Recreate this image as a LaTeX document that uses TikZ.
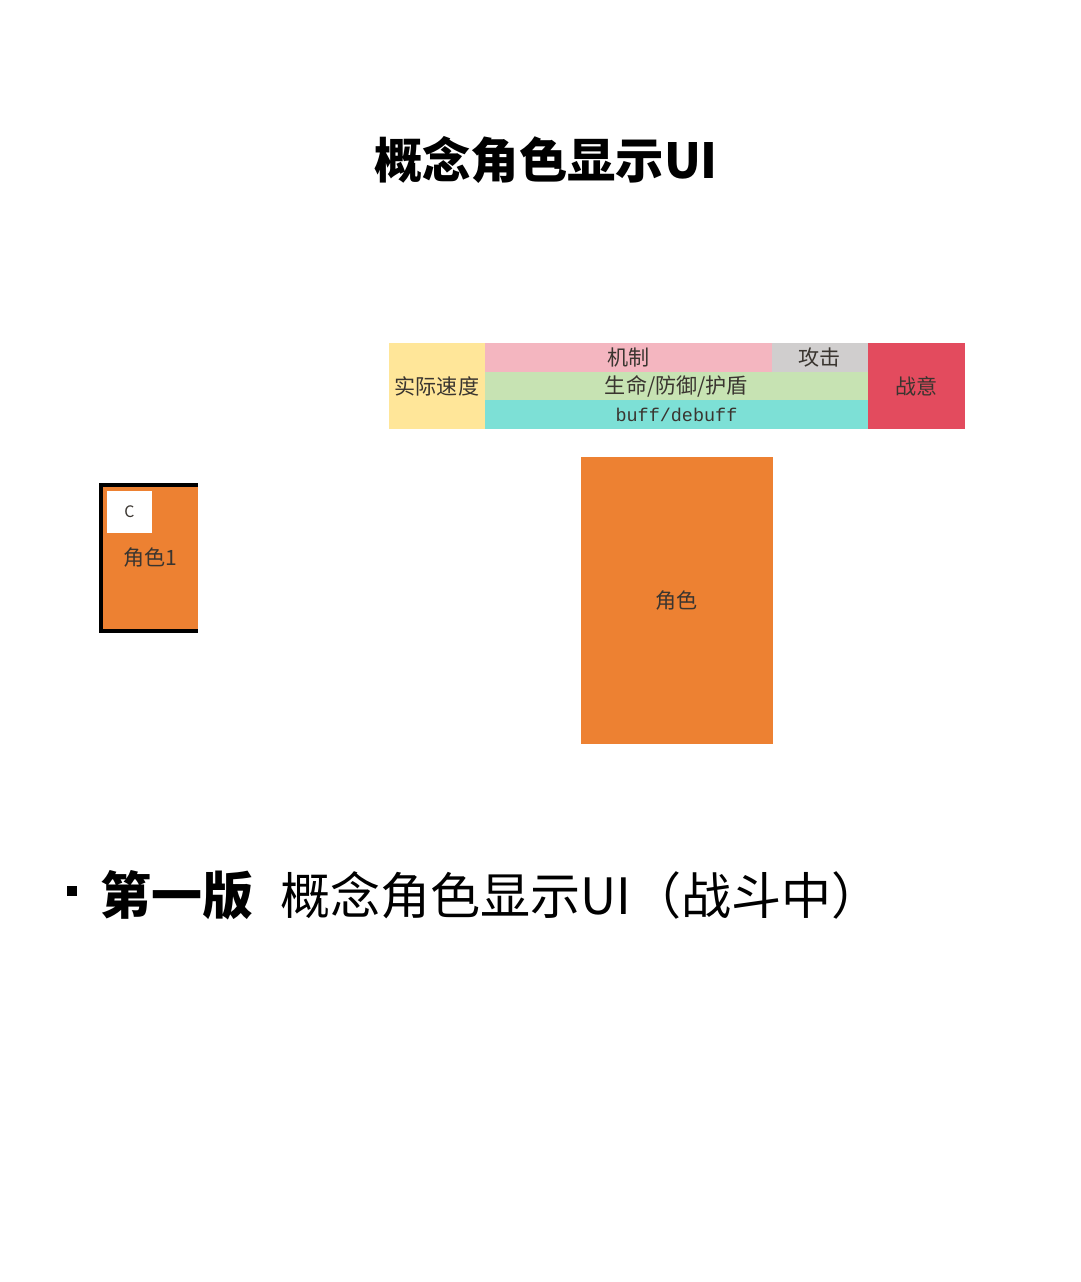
\documentclass[tikz,border=0pt]{standalone}
\usepackage{fontspec}
\setmainfont{Noto Sans CJK SC}
\setmonofont{Liberation Mono}
\usetikzlibrary{positioning}
\definecolor{speedc}{HTML}{FFE699}
\definecolor{mechc}{HTML}{F4B6C0}
\definecolor{atkc}{HTML}{D0CECE}
\definecolor{hpc}{HTML}{C7E3B3}
\definecolor{buffc}{HTML}{7DE0D6}
\definecolor{warc}{HTML}{E34B5E}
\definecolor{rolec}{HTML}{ED8132}
\definecolor{barText}{HTML}{3A3530}

\begin{document}
\begin{tikzpicture}
      [
        x = 0.02cm, y = -0.02cm,
        cell/.style = {anchor=north west, inner sep=0pt, outer sep=0pt,
            text=barText, font=\fontsize{12pt}{14pt}\selectfont},
        title/.style = {font=\fontsize{27.5pt}{31pt}\selectfont\bfseries}
      ]
      \useasboundingbox (0,0) rectangle (1080,1282);

      \node[title] (head) at (546,160) {概念角色显示UI};

      % status bar
      \node[cell, fill=speedc, minimum width=1.92cm, minimum height=1.72cm] (speed) at (389,343) {实际速度};
      \node[cell, fill=mechc, minimum width=5.74cm, minimum height=0.574cm] (mech) at (485,343) {机制};
      \node[cell, fill=atkc, minimum width=1.92cm, minimum height=0.574cm] (atk) at (772,343) {攻击};
      \node[cell, fill=hpc, minimum width=7.66cm, minimum height=0.574cm] (hp) at (485,371.7) {生命/防御/护盾};
      \node[cell, fill=buffc, minimum width=7.66cm, minimum height=0.574cm, font=\ttfamily\fontsize{10.5pt}{12pt}\selectfont] (buff) at (485,400.4) {buff/debuff};
      \node[cell, fill=warc, minimum width=1.94cm, minimum height=1.72cm] (war) at (868,343) {战意};

      % character
      \node[cell, fill=rolec, minimum width=3.84cm, minimum height=5.74cm] (role) at (581,457) {角色};

      % small card
      \node[cell, fill=rolec, minimum width=1.94cm, minimum height=2.92cm, text depth=0pt] (card) at (101,485) {};
      \draw[line width=1.8pt] (card.north east) -- (card.north west) -- (card.south west) -- (card.south east);
      \node[cell, fill=white, minimum width=0.9cm, minimum height=0.84cm, font=\fontsize{9pt}{10pt}\selectfont] (tag) at (107,491) {C};
      \node[text=barText, font=\fontsize{12pt}{14pt}\selectfont] (cardname) at (150,558) {角色1};

      % caption
      \node[fill=black, inner sep=0pt, minimum size=0.2cm] (dot) at (72,891) {};
      \node[anchor=west, inner sep=0pt, font=\fontsize{29pt}{33pt}\selectfont\bfseries] (ver) at (100,895) {第一版};
      \node[anchor=west, inner sep=0pt, font=\fontsize{28.5pt}{32pt}\selectfont] (cap) at (280,895) {概念角色显示UI（战斗中）};
\end{tikzpicture}
\end{document}
